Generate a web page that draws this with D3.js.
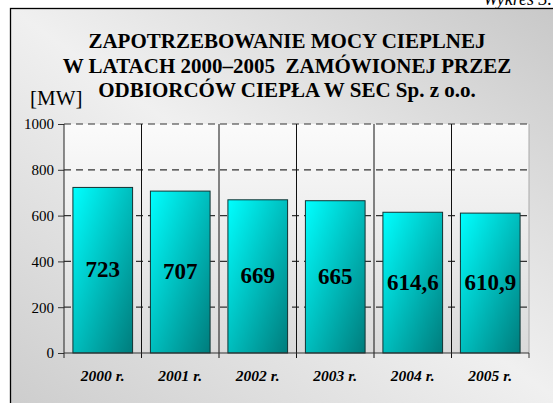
<!DOCTYPE html>
<html>
<head>
<meta charset="utf-8">
<script src="https://cdn.jsdelivr.net/npm/d3@7"></script>
<style>
  body { margin: 0; background: #fff; }
  svg { display: block; }
  svg text { font-family: "Liberation Serif", "Times New Roman", serif; }
</style>
</head>
<body>
<div id="chart"></div>
<script>
"use strict";

var years = ["2000 r.", "2001 r.", "2002 r.", "2003 r.", "2004 r.", "2005 r."];
var values = [723, 707, 669, 665, 614.6, 610.9];
var yTicks = [0, 200, 400, 600, 800, 1000];
var titleLines = [
  "ZAPOTRZEBOWANIE MOCY CIEPLNEJ",
  "W LATACH 2000\u20132005\u00a0 ZAMÓWIONEJ PRZEZ",
  "ODBIORCÓW CIEPŁA W SEC Sp. z o.o."
];
var unitLabel = "[MW]";
var chartNote = "Wykres 3.";

var W = 553, H = 403;
var plot = { left: 64, right: 529, top: 124, bottom: 353 };
var serif = '"Liberation Serif", "Times New Roman", serif';

var svg = d3.select("#chart").append("svg")
  .attr("width", W)
  .attr("height", H)
  .attr("font-family", serif);

var defs = svg.append("defs");

// frame background: darker top-right / bottom-left, light along the diagonal
var bg = defs.append("linearGradient").attr("id", "bgGrad")
  .attr("x1", "100%").attr("y1", "0%").attr("x2", "0%").attr("y2", "100%");
bg.append("stop").attr("offset", "0%").attr("stop-color", "#bdbdbd");
bg.append("stop").attr("offset", "50%").attr("stop-color", "#f0f0f0");
bg.append("stop").attr("offset", "100%").attr("stop-color", "#c4c4c4");

var pg = defs.append("linearGradient").attr("id", "plotGrad")
  .attr("x1", "0%").attr("y1", "0%").attr("x2", "0%").attr("y2", "100%");
pg.append("stop").attr("offset", "0%").attr("stop-color", "#fbfbfb");
pg.append("stop").attr("offset", "100%").attr("stop-color", "#dadada");

var barGrad = defs.append("linearGradient").attr("id", "barGrad")
  .attr("x1", "0%").attr("y1", "0%").attr("x2", "100%").attr("y2", "100%");
barGrad.append("stop").attr("offset", "0%").attr("stop-color", "#00ffff");
barGrad.append("stop").attr("offset", "100%").attr("stop-color", "#007c7c");

// outer frame
svg.append("rect")
  .attr("x", 10.5).attr("y", 8.5)
  .attr("width", 700).attr("height", 500)
  .attr("fill", "url(#bgGrad)")
  .attr("stroke", "#000").attr("stroke-width", 1.3);

svg.append("text")
  .attr("x", 552).attr("y", 5)
  .attr("text-anchor", "end")
  .style("font-style", "italic")
  .style("font-size", "18px")
  .text(chartNote);

// title
svg.selectAll(".title")
  .data(titleLines)
  .enter()
  .append("text")
  .attr("class", "title")
  .attr("x", 287)
  .attr("y", function (d, i) { return 48 + i * 24.6; })
  .attr("text-anchor", "middle")
  .style("font-weight", "bold")
  .style("font-size", "21px")
  .style("white-space", "pre")
  .text(function (d) { return d; });

svg.append("text")
  .attr("x", 30).attr("y", 105)
  .style("font-size", "21px")
  .text(unitLabel);

// scales
var x = d3.scaleBand()
  .domain(years)
  .range([plot.left, plot.right])
  .paddingInner(0.23)
  .paddingOuter(0.115);

var slot = d3.scaleBand()
  .domain(years)
  .range([plot.left, plot.right]);

var y = d3.scaleLinear()
  .domain([0, 1000])
  .range([plot.bottom, plot.top]);

// plot area
svg.append("rect")
  .attr("x", plot.left).attr("y", plot.top)
  .attr("width", plot.right - plot.left)
  .attr("height", plot.bottom - plot.top)
  .attr("fill", "url(#plotGrad)");

svg.append("line")
  .attr("x1", plot.right).attr("x2", plot.right)
  .attr("y1", plot.top).attr("y2", plot.bottom)
  .attr("stroke", "#a8a8a8");

// dashed value gridlines
svg.selectAll(".grid")
  .data(yTicks.filter(function (d) { return d > 0; }))
  .enter()
  .append("line")
  .attr("class", "grid")
  .attr("x1", plot.left).attr("x2", plot.right)
  .attr("y1", function (d) { return y(d); })
  .attr("y2", function (d) { return y(d); })
  .attr("stroke", "#333")
  .attr("stroke-width", 1.2)
  .attr("stroke-dasharray", "7,5");

// category separators (extend below the axis as ticks)
svg.selectAll(".sep")
  .data(years.slice(1))
  .enter()
  .append("line")
  .attr("class", "sep")
  .attr("x1", function (d) { return slot(d); })
  .attr("x2", function (d) { return slot(d); })
  .attr("y1", plot.top)
  .attr("y2", plot.bottom + 5)
  .attr("stroke", "#111");

svg.append("line")
  .attr("x1", plot.right).attr("x2", plot.right)
  .attr("y1", plot.bottom).attr("y2", plot.bottom + 5)
  .attr("stroke", "#333");

// bars
svg.selectAll(".bar")
  .data(values)
  .enter()
  .append("rect")
  .attr("class", "bar")
  .attr("x", function (d, i) { return x(years[i]); })
  .attr("y", function (d) { return y(d); })
  .attr("width", x.bandwidth())
  .attr("height", function (d) { return y(0) - y(d); })
  .attr("fill", "url(#barGrad)")
  .attr("stroke", "#113333")
  .attr("stroke-width", 1);

svg.selectAll(".val")
  .data(values)
  .enter()
  .append("text")
  .attr("class", "val")
  .attr("x", function (d, i) { return x(years[i]) + x.bandwidth() / 2; })
  .attr("y", function (d) { return (y(d) + y(0)) / 2; })
  .attr("dy", "0.3em")
  .attr("text-anchor", "middle")
  .style("font-weight", "bold")
  .style("font-size", "23px")
  .text(function (d) { return String(d).replace(".", ","); });

// y axis
var yAxis = d3.axisLeft(y)
  .tickValues(yTicks)
  .tickFormat(d3.format("d"))
  .tickSize(6)
  .tickPadding(4);
var gy = svg.append("g")
  .attr("transform", "translate(" + plot.left + ",0)")
  .call(yAxis)
  .attr("font-family", serif)
  .attr("font-size", 15);
gy.select(".domain").remove();
gy.selectAll(".tick line").attr("stroke", "#333");
gy.selectAll(".tick text").attr("fill", "#000");
gy.append("line")
  .attr("x1", 0).attr("x2", 0)
  .attr("y1", plot.top).attr("y2", plot.bottom + 5)
  .attr("stroke", "#222");

// x axis
var xAxis = d3.axisBottom(x).tickSize(0).tickPadding(17);
var gx = svg.append("g")
  .attr("transform", "translate(0," + plot.bottom + ")")
  .call(xAxis)
  .attr("font-family", serif)
  .attr("font-size", 15.5)
  .attr("font-weight", "bold")
  .attr("font-style", "italic");
gx.select(".domain").remove();
gx.selectAll(".tick text").attr("fill", "#000");
svg.append("line")
  .attr("x1", plot.left).attr("x2", plot.right)
  .attr("y1", plot.bottom).attr("y2", plot.bottom)
  .attr("stroke", "#333");
</script>
</body>
</html>
